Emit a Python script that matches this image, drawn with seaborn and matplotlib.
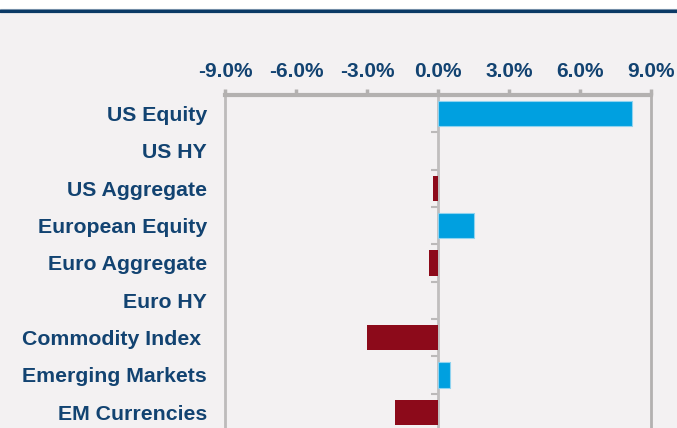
import matplotlib
matplotlib.use("Agg")
import matplotlib.pyplot as plt
import seaborn as sns
import pandas as pd
from matplotlib.patches import Rectangle
from matplotlib.lines import Line2D
from matplotlib.ticker import FuncFormatter

categories = ["US Equity", "US HY", "US Aggregate", "European Equity", "Euro Aggregate",
              "Euro HY", "Commodity Index ", "Emerging Markets", "EM Currencies"]
values = [8.2, 0.0, -0.2, 1.5, -0.4, 0.0, -3.0, 0.5, -1.8]
x_ticks = [-9, -6, -3, 0, 3, 6, 9]

BLUE = "#00A0E0"
RED = "#8C0A1A"
NAVY = "#124371"
BG = "#F3F1F2"
GRID = "#B3B1B0"

sns.set_theme(style="white")
plt.rcParams["font.family"] = ["Liberation Sans", "DejaVu Sans"]
plt.rcParams["font.weight"] = "bold"

df = pd.DataFrame({"cat": categories, "val": values})
df["sign"] = ["pos" if v >= 0 else "neg" for v in values]

fig = plt.figure(figsize=(6.77, 4.28), dpi=100, facecolor=BG)
W, H = 677, 428
ax = fig.add_axes([225 / W, (H - 431) / H, (651 - 225) / W, (431 - 95) / H])
ax.set_facecolor(BG)

sns.barplot(data=df, y="cat", x="val", hue="sign", palette={"pos": BLUE, "neg": RED},
            orient="h", width=0.68, dodge=False, legend=False, ax=ax, saturation=1)
for p in ax.patches:
    fc = p.get_facecolor()
    if fc[2] > 0.5 and abs(p.get_width()) > 1e-9:
        p.set_edgecolor("#8FD3F0")
        p.set_linewidth(0.8)
    else:
        p.set_linewidth(0)
        p.set_edgecolor("none")

ax.set_xlim(-9, 9)
ax.set_ylim(len(categories) - 0.5, -0.5)
ax.set_xlabel("")
ax.set_ylabel("")
ax.xaxis.tick_top()
ax.set_xticks(x_ticks)
ax.xaxis.set_major_formatter(FuncFormatter(lambda v, p: f"{v:.1f}%"))
ax.tick_params(axis="x", which="major", direction="out", length=4, width=2.5, color=GRID,
               pad=6, labelsize=15, labelcolor=NAVY, top=True, bottom=False)
ax.tick_params(axis="y", length=0, pad=13, labelsize=15.3, labelcolor=NAVY)
for lab in ax.get_xticklabels() + ax.get_yticklabels():
    lab.set_fontweight("bold")

ax.spines["top"].set_color(GRID)
ax.spines["top"].set_linewidth(3)
ax.spines["left"].set_color("#BDBBBB")
ax.spines["left"].set_linewidth(2)
ax.spines["right"].set_color(GRID)
ax.spines["right"].set_linewidth(2)
ax.spines["bottom"].set_visible(False)

sec = ax.secondary_yaxis(0.5)
sec.set_alignment("left")
sec.set_yticks([i + 0.5 for i in range(len(categories) - 1)])
sec.set_yticklabels([])
sec.tick_params(axis="y", direction="out", length=5, width=1.5, color="#BBB9B9",
                left=True, right=False)
for s in sec.spines.values():
    s.set_color("#C0BEBE")
    s.set_linewidth(2)

fig.add_artist(Rectangle((0, 1 - 9 / H), 1, 9 / H, transform=fig.transFigure,
                         facecolor="white", edgecolor="none"))
fig.add_artist(Line2D([0, 1], [1 - 9.3 / H, 1 - 9.3 / H], transform=fig.transFigure,
                      color="#7F97AF", linewidth=0.8))
fig.add_artist(Line2D([0, 1], [1 - 11 / H, 1 - 11 / H], transform=fig.transFigure,
                      color="#0B3A66", linewidth=2.3))

fig.savefig("out.png", dpi=100, facecolor=BG)
